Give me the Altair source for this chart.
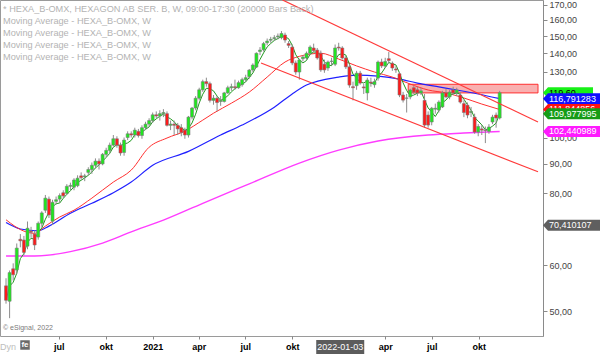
import altair as alt
import pandas as pd

FONT = "Liberation Sans"

# ---------------- weekly candles HEXA_B-OMX (first week ending 2020-03-20) ----------------
first_week = "2020-03-20"
opens = [55.3, 52.0, 59.2, 58.9, 66.6, 66.4, 64.8, 68.8, 68.0, 67.2,
         71.0, 74.8, 78.2, 71.6, 77.5, 78.2, 80.2, 80.0, 82.3, 82.0,
         82.5, 85.8, 85.5, 87.0, 88.0, 89.5, 91.0, 90.0, 93.5, 95.0,
         97.0, 99.5, 97.0, 94.2, 100.0, 101.5, 101.0, 102.5, 100.8, 104.0,
         105.5, 107.0, 109.5, 109.0, 110.0, 110.0, 105.0, 105.5, 105.0, 104.0,
         103.0, 101.0, 108.5, 112.5, 117.0, 121.0, 125.0, 124.0, 116.0, 117.0,
         115.5, 115.5, 119.5, 122.0, 122.5, 122.0, 123.5, 126.0, 127.5, 131.0,
         132.5, 141.0, 142.0, 146.0, 147.5, 148.5, 149.5, 149.0, 150.6, 145.5,
         143.5, 134.7, 129.9, 137.0, 137.4, 140.0, 143.0, 141.8, 140.0, 134.0,
         132.0, 135.5, 134.0, 143.5, 143.0, 137.4, 132.6, 122.5, 123.0, 129.3,
         122.4, 119.5, 124.8, 123.5, 126.8, 135.2, 133.0, 137.0, 134.5, 131.5,
         129.0, 118.5, 117.0, 117.6, 122.0, 121.0, 119.5, 116.0, 109.4, 106.4,
         112.0, 111.6, 113.0, 119.5, 117.6, 120.9, 119.5, 118.5, 114.5, 113.8,
         110.5, 108.5, 102.2, 103.5, 103.0, 102.5, 106.4, 109.4, 108.1]
highs = [57.0, 58.8, 60.5, 65.5, 68.0, 67.5, 71.5, 70.0, 69.0, 71.5,
         74.5, 79.5, 79.0, 78.0, 79.0, 80.0, 81.0, 83.0, 83.5, 85.0,
         86.0, 87.0, 86.5, 88.8, 90.5, 92.0, 92.0, 94.0, 96.0, 98.0,
         101.0, 100.5, 98.0, 100.0, 102.5, 102.5, 104.0, 103.5, 105.0, 106.5,
         108.0, 110.5, 111.0, 111.5, 112.0, 111.0, 107.0, 107.0, 106.0, 105.5,
         104.0, 109.0, 113.0, 118.0, 122.0, 126.0, 127.0, 125.0, 118.5, 118.0,
         118.0, 120.0, 123.0, 124.0, 126.0, 125.5, 127.0, 128.5, 131.5, 134.5,
         140.5, 143.5, 146.5, 148.5, 149.5, 150.5, 151.5, 153.0, 152.0, 147.0,
         145.0, 136.0, 137.0, 139.0, 141.0, 144.5, 145.5, 143.0, 141.5, 136.5,
         136.0, 137.5, 145.0, 146.0, 144.0, 138.5, 134.0, 125.0, 130.5, 130.5,
         124.0, 127.0, 127.0, 126.5, 136.0, 137.0, 137.5, 140.7, 135.5, 133.0,
         130.0, 120.0, 119.0, 121.5, 123.0, 122.5, 122.0, 119.0, 111.0, 113.0,
         114.5, 116.0, 120.5, 121.5, 121.0, 122.5, 122.0, 120.0, 116.0, 115.0,
         113.0, 110.0, 105.5, 105.0, 104.5, 105.5, 109.5, 110.5, 120.5]
lows = [51.5, 48.6, 56.5, 58.0, 64.5, 62.5, 64.0, 67.0, 63.8, 66.5,
        70.0, 74.0, 72.5, 70.5, 76.5, 77.0, 78.5, 79.5, 81.0, 81.0,
        82.0, 84.5, 84.0, 86.0, 86.5, 88.5, 88.0, 89.5, 92.5, 94.0,
        96.5, 96.0, 93.0, 93.0, 99.0, 100.0, 100.0, 100.0, 99.5, 103.0,
        104.5, 106.0, 108.0, 107.0, 108.5, 104.5, 103.0, 101.0, 101.0, 100.5,
        99.5, 100.0, 107.5, 111.5, 116.0, 120.0, 122.5, 115.0, 114.0, 111.0,
        113.5, 115.0, 119.0, 120.5, 121.0, 121.5, 122.5, 125.0, 126.5, 130.0,
        132.0, 139.0, 141.0, 144.5, 146.0, 147.0, 148.0, 148.0, 146.0, 143.0,
        133.5, 128.5, 126.0, 135.5, 136.5, 139.0, 140.5, 136.5, 130.0, 129.5,
        130.5, 133.5, 133.0, 141.5, 136.5, 131.5, 122.0, 116.0, 121.0, 123.5,
        119.0, 116.0, 122.5, 122.0, 125.5, 132.0, 132.0, 134.5, 130.5, 129.5,
        117.5, 115.0, 110.5, 116.5, 119.0, 118.0, 118.5, 104.0, 104.0, 105.0,
        110.0, 110.5, 112.5, 117.0, 116.5, 118.5, 118.0, 114.5, 108.5, 108.0,
        108.5, 101.5, 100.5, 101.0, 97.8, 101.5, 105.5, 104.0, 107.5]
closes = [52.2, 58.3, 57.8, 64.3, 66.2, 63.2, 69.6, 68.5, 65.1, 71.0,
          74.0, 78.5, 73.4, 77.2, 78.0, 79.3, 79.2, 82.3, 82.6, 84.4,
          85.0, 85.2, 85.8, 88.0, 89.5, 91.0, 90.0, 93.5, 95.0, 97.0,
          99.5, 97.0, 94.0, 99.0, 101.5, 101.0, 103.0, 100.8, 104.0, 105.5,
          107.0, 109.5, 109.0, 110.0, 110.5, 105.0, 105.5, 105.0, 103.5, 102.0,
          101.0, 108.5, 112.5, 117.0, 121.0, 125.0, 124.0, 116.0, 117.0, 115.0,
          116.0, 119.5, 122.0, 122.5, 122.0, 124.5, 126.0, 127.0, 130.9, 133.6,
          140.0, 141.8, 145.5, 147.0, 148.0, 149.0, 150.0, 151.5, 147.6, 144.5,
          134.7, 129.9, 136.3, 137.9, 140.0, 143.5, 141.5, 137.4, 131.0, 131.0,
          135.2, 135.7, 143.0, 143.0, 137.4, 132.6, 123.3, 122.0, 129.3, 124.3,
          121.9, 125.8, 124.3, 125.0, 135.2, 133.1, 135.5, 136.0, 132.0, 131.0,
          118.5, 116.1, 117.1, 120.9, 119.9, 119.5, 120.5, 105.1, 105.1, 112.4,
          112.4, 115.2, 119.5, 117.6, 119.9, 119.5, 120.9, 115.2, 110.5, 109.4,
          111.0, 102.2, 104.5, 103.0, 102.8, 104.3, 108.5, 108.1, 119.6]

# ---------------- moving averages (week index -> value) ----------------
red_ma_week = [0, 5, 8, 11, 15, 19, 24, 30, 35, 40, 45, 50, 55, 58, 63, 68, 73, 78, 82, 88,
               93, 98, 103, 108, 113, 118, 123, 128, 133, 138]
red_ma_val = [72.0, 68.8, 68.2, 70.2, 72.8, 74.8, 78.5, 83.7, 87.8, 96.2, 99.8, 102.6, 107.2,
              110.2, 114.7, 119.9, 127.3, 135.2, 138.3, 140.0, 136.8, 133.1, 129.9, 127.3,
              123.8, 120.9, 119.5, 117.1, 114.3, 111.84]
blue_ma_week = [0, 4, 9, 12, 18, 24, 30, 35, 41, 51, 60, 66, 75, 80, 84, 93, 98, 104, 110,
                115, 121, 126, 132, 138]
blue_ma_val = [71.2, 69.4, 68.9, 70.2, 73.9, 76.9, 80.2, 83.7, 89.5, 94.6, 101.0, 105.1, 112.9,
               119.0, 123.3, 127.3, 128.3, 127.8, 126.3, 124.3, 122.4, 120.9, 119.0, 116.79]
mag_ma_week = [0, 8, 18, 27, 35, 44, 55, 68, 82, 93, 104, 118, 128, 138]
mag_ma_val = [62.3, 62.3, 63.4, 65.6, 68.6, 71.9, 76.9, 83.1, 90.3, 95.1, 98.6, 101.0, 101.8,
              102.44]

# ---------------- drawn objects ----------------
trend_id = ["upper", "upper", "lower", "lower"]
trend_date = ["2021-09-12", "2023-01-25", "2021-08-01", "2023-01-25"]
trend_val = [173.2, 106.4, 134.7, 87.2]

zone_start, zone_end = "2022-05-16", "2023-01-25"
zone_low, zone_high = 119.5, 123.7

price_ticks = [50, 60, 80, 90, 100, 130, 140, 150, 160, 170]

tag_values = [119.60, 116.791283, 111.844856, 109.977995, 102.440989, 70.410107]
tag_labels = ["119,60", "116,791283", "111,844856", "109,977995", "102,440989", "70,410107"]
tag_bg = ["#18f018", "#1010ff", "#ff1010", "#169c16", "#ff1aff", "#5f5f5f"]
tag_fg = ["#000000", "#ffffff", "#ffffff", "#ffffff", "#ffffff", "#ffffff"]

header_lines = ["* HEXA_B-OMX, HEXAGON AB SER. B, W, 09:00-17:30 (20000 Bars Back)",
                "Moving Average - HEXA_B-OMX, W",
                "Moving Average - HEXA_B-OMX, W",
                "Moving Average - HEXA_B-OMX, W",
                "Moving Average - HEXA_B-OMX, W"]
cursor_date = "2022-01-03"

# ---------------- tables ----------------
dates = pd.date_range(first_week, periods=len(closes), freq="7D").strftime("%Y-%m-%d").tolist()
candles = pd.DataFrame({"date": dates, "open": opens, "high": highs, "low": lows, "close": closes})


def ma_frame(weeks, vals):
    return pd.DataFrame({"date": [dates[w] for w in weeks], "value": vals})


red_df = ma_frame(red_ma_week, red_ma_val)
blue_df = ma_frame(blue_ma_week, blue_ma_val)
mag_df = ma_frame(mag_ma_week, mag_ma_val)
trend_df = pd.DataFrame({"id": trend_id, "date": trend_date, "value": trend_val})
zone_df = pd.DataFrame({"start": [zone_start], "end": [zone_end], "low": [zone_low], "high": [zone_high]})

# ---------------- scales / axes ----------------
x_scale = alt.Scale(type="utc", domain=[alt.DateTime(year=2020, month=3, date=18, utc=True),
                                         alt.DateTime(year=2023, month=1, date=25, utc=True)])
y_scale = alt.Scale(type="log", domain=[45.26, 173.2], nice=False)

month_ticks = [alt.DateTime(year=y, month=m, date=1, utc=True) for (y, m) in
               [(2020, 7), (2020, 10), (2021, 1), (2021, 4), (2021, 7), (2021, 10),
                (2022, 4), (2022, 7), (2022, 10)]]
x_axis = alt.Axis(values=month_ticks, title=None, grid=False, domain=False,
                  tickSize=3, tickColor="#888888", labelPadding=3,
                  labelFont=FONT, labelFontSize=9, labelFontWeight="bold", labelColor="#000000",
                  labelExpr="utcmonth(datum.value) == 0 ? utcFormat(datum.value, '%Y') : "
                            "['jan','feb','mar','apr','maj','jun','jul','aug','sep','okt','nov','dec'][utcmonth(datum.value)]")
y_axis = alt.Axis(orient="right", values=price_ticks,
                  title=None, grid=False, domain=True, domainColor="#8a8a8a",
                  tickSize=4, tickColor="#8a8a8a", labelPadding=2, zindex=0,
                  labelFont=FONT, labelFontSize=9, labelColor="#444444",
                  labelExpr="replace(format(datum.value, '.2f'), '.', ',')")


def X(field="date"):
    return alt.X(f"{field}:T", scale=x_scale, axis=x_axis)


def Y(field):
    return alt.Y(f"{field}:Q", scale=y_scale, axis=y_axis)


# ---------------- layers ----------------
zone = alt.Chart(zone_df).mark_rect(fill="#f9b0b0", stroke="#ff3030", strokeWidth=1).encode(
    x=X("start"), x2="end:T", y=Y("low"), y2="high:Q")

mag_line = alt.Chart(mag_df).mark_line(color="#ff3cff", strokeWidth=1.4, interpolate="monotone").encode(
    x=X(), y=Y("value"))
blue_line = alt.Chart(blue_df).mark_line(color="#2020ff", strokeWidth=1.2, interpolate="monotone").encode(
    x=X(), y=Y("value"))
red_line = alt.Chart(red_df).mark_line(color="#ff3030", strokeWidth=1, interpolate="monotone").encode(
    x=X(), y=Y("value"))

base = alt.Chart(candles)
green_line = base.transform_window(
    ma="mean(close)", frame=[-3, 0], sort=[alt.SortField("date")]
).mark_line(color="#1f9a1f", strokeWidth=1).encode(x=X(), y=Y("ma"))

wicks = base.mark_rule(color="#8c8c8c", strokeWidth=1).encode(x=X(), y=Y("low"), y2="high:Q")
bodies = base.transform_calculate(
    dir="datum.close >= datum.open ? 'up' : 'down'"
).mark_bar(size=3, stroke="#7a7a7a", strokeWidth=0.6).encode(
    x=X(), y=Y("open"), y2="close:Q",
    color=alt.Color("dir:N", scale=alt.Scale(domain=["up", "down"], range=["#1ee81e", "#ff1a1a"]),
                    legend=None))

trend = alt.Chart(trend_df).mark_line(color="#ff3a3a", strokeWidth=1.2).encode(
    x=X(), y=Y("value"), detail="id:N")

layers = [zone, mag_line, blue_line, red_line, green_line, wicks, bodies, trend]

# header texts
for k, line in enumerate(header_lines):
    layers.append(alt.Chart(pd.DataFrame({"t": [line]})).mark_text(
        align="left", baseline="middle", font=FONT, fontSize=9.2, color="#b3b3b3").encode(
        x=alt.value(3), y=alt.value(8.5 + 12 * k), text="t:N"))

layers.append(alt.Chart(pd.DataFrame({"t": ["© eSignal, 2022"]})).mark_text(
    align="left", baseline="middle", font=FONT, fontSize=7, color="#7a7a7a").encode(
    x=alt.value(3), y=alt.value(328), text="t:N"))
layers.append(alt.Chart(pd.DataFrame({"t": ["Dyn"]})).mark_text(
    align="left", baseline="middle", font=FONT, fontSize=9, color="#bdbdbd").encode(
    x=alt.value(0), y=alt.value(347), text="t:N"))
layers.append(alt.Chart(pd.DataFrame({"t": ["fe"]})).mark_point(
    shape="square", filled=True, size=90, color="#6a6a6a", opacity=1).encode(
    x=alt.value(25), y=alt.value(345)))
layers.append(alt.Chart(pd.DataFrame({"t": ["fe"]})).mark_text(
    align="center", baseline="middle", font=FONT, fontSize=8, fontWeight="bold", color="#ffffff").encode(
    x=alt.value(25), y=alt.value(345), text="t:N"))

# cursor date box on the time axis
cur_df = pd.DataFrame({"date": [cursor_date], "t": [cursor_date]})
box_w, box_h = 48, 14
layers.append(alt.Chart(cur_df).mark_point(
    shape=f"M-1,-{box_h / box_w:.4f}L1,-{box_h / box_w:.4f}L1,{box_h / box_w:.4f}L-1,{box_h / box_w:.4f}Z",
    size=box_w ** 2, filled=True, color="#5c5c5c", opacity=1, strokeWidth=0).encode(
    x=X(), y=alt.value(347)))
layers.append(alt.Chart(cur_df).mark_text(
    align="center", baseline="middle", font=FONT, fontSize=9, color="#ffffff").encode(
    x=X(), y=alt.value(347), text="t:N"))

# value tags on the price axis
for v, lab, bg, fg in zip(tag_values, tag_labels, tag_bg, tag_fg):
    w = 50 if len(lab) < 8 else 57
    h = 11.0 / w
    bx = -1 + 10.0 / w
    path = f"M-1,0L{bx:.4f},-{h:.4f}L1,-{h:.4f}L1,{h:.4f}L{bx:.4f},{h:.4f}Z"
    df = pd.DataFrame({"value": [v], "t": [lab]})
    layers.append(alt.Chart(df).mark_point(
        shape=path, size=w ** 2, filled=True, color=bg, opacity=1, strokeWidth=0).encode(
        x=alt.value(543 + w / 2), y=Y("value")))
    layers.append(alt.Chart(df).mark_text(
        align="left", baseline="middle", font=FONT, fontSize=9, color=fg).encode(
        x=alt.value(549), y=Y("value"), text="t:N"))

chart = alt.layer(*layers).properties(
    width=543, height=336,
    padding={"left": 0, "top": 0, "right": 57, "bottom": 18},
    autosize=alt.AutoSizeParams(type="none"),
    background="#ffffff",
).configure_view(stroke="#9a9a9a", strokeWidth=1)

chart.save("out.html", embed_options={"renderer": "svg", "actions": False})
